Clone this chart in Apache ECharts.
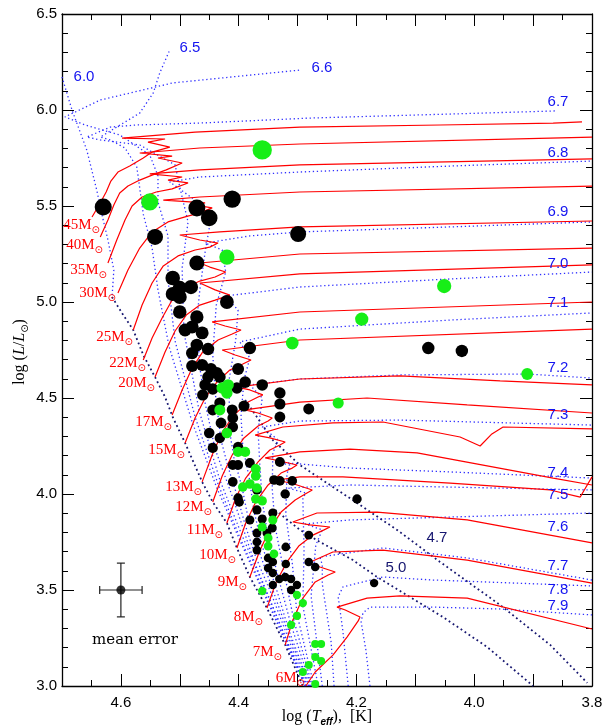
<!DOCTYPE html>
<html><head><meta charset="utf-8">
<script src="https://cdn.jsdelivr.net/npm/echarts/dist/echarts.min.js"></script>
<style>html,body{margin:0;padding:0;background:#fff}#c{width:611px;height:728px}</style>
</head><body><div id="c"></div>
<script>
// ---------- evolutionary tracks [log Teff, log L] ----------
const massLabels = ['45','40','35','30','25','22','20','17','15','13','12','11','10','9','8','7','6'];
const track45 = [[4.649,5.443],[4.637,5.505],[4.625,5.573],[4.617,5.630],[4.605,5.677],[4.585,5.708],[4.562,5.750],[4.547,5.781],[4.517,5.807],[4.554,5.833],[4.525,5.849],[4.598,5.854],[4.474,5.885],[4.296,5.911],[4.058,5.922],[3.866,5.932],[3.817,5.938]];
const track40 = [[4.635,5.339],[4.622,5.427],[4.612,5.505],[4.602,5.568],[4.588,5.604],[4.568,5.635],[4.547,5.661],[4.523,5.688],[4.496,5.724],[4.537,5.750],[4.513,5.760],[4.568,5.776],[4.466,5.802],[4.296,5.823],[3.871,5.854],[3.800,5.859]];
const track35 = [[4.622,5.203],[4.607,5.323],[4.593,5.427],[4.581,5.500],[4.564,5.547],[4.540,5.573],[4.513,5.589],[4.486,5.620],[4.520,5.635],[4.496,5.651],[4.551,5.667],[4.466,5.688],[4.296,5.714],[3.800,5.745]];
const track30 = [[4.605,5.047],[4.588,5.167],[4.568,5.281],[4.547,5.365],[4.520,5.417],[4.491,5.443],[4.466,5.464],[4.445,5.490],[4.474,5.505],[4.457,5.516],[4.528,5.531],[4.466,5.547],[4.296,5.573],[3.800,5.604]];
const track25 = [[4.579,4.854],[4.564,4.984],[4.547,5.099],[4.528,5.188],[4.503,5.240],[4.474,5.271],[4.449,5.286],[4.435,5.307],[4.466,5.323],[4.500,5.349],[4.432,5.365],[4.296,5.391],[3.800,5.422]];
const track22 = [[4.562,4.698],[4.547,4.813],[4.530,4.917],[4.513,5.010],[4.491,5.073],[4.466,5.109],[4.440,5.130],[4.422,5.156],[4.449,5.182],[4.466,5.203],[4.296,5.250],[3.800,5.281]];
const track20 = [[4.542,4.609],[4.525,4.740],[4.508,4.849],[4.489,4.932],[4.466,4.984],[4.440,5.010],[4.415,5.036],[4.440,5.063],[4.466,5.099],[4.296,5.146],[3.800,5.193]];
const track17 = [[4.513,4.411],[4.496,4.542],[4.479,4.656],[4.461,4.740],[4.435,4.802],[4.411,4.833],[4.396,4.854],[4.423,4.875],[4.445,4.896],[4.296,4.948],[3.800,5.000]];
const track15 = [[4.491,4.266],[4.474,4.396],[4.457,4.500],[4.437,4.583],[4.415,4.646],[4.393,4.677],[4.379,4.698],[4.406,4.724],[4.428,4.750],[4.296,4.802],[3.800,4.859]];
const track13 = [[4.462,4.063],[4.445,4.203],[4.428,4.323],[4.408,4.411],[4.384,4.479],[4.367,4.505],[4.359,4.516],[4.381,4.542],[4.403,4.557],[4.296,4.599],[4.126,4.615],[3.956,4.589],[3.800,4.568]];
const track12 = [[4.444,3.958],[4.428,4.094],[4.411,4.203],[4.391,4.292],[4.367,4.354],[4.350,4.380],[4.343,4.396],[4.367,4.422],[4.389,4.438],[4.296,4.479],[4.182,4.500],[4.012,4.464],[3.800,4.422]];
const track11 = [[4.420,3.849],[4.405,3.979],[4.388,4.083],[4.367,4.167],[4.347,4.229],[4.330,4.255],[4.321,4.271],[4.347,4.292],[4.372,4.307],[4.325,4.349],[4.240,4.370],[4.155,4.375],[4.024,4.297],[3.990,4.250],[3.970,4.313],[3.951,4.349],[3.800,4.339]];
const track10 = [[4.403,3.719],[4.388,3.849],[4.371,3.958],[4.350,4.047],[4.328,4.109],[4.309,4.135],[4.301,4.151],[4.330,4.172],[4.355,4.188],[4.296,4.219],[4.211,4.234],[4.097,4.214],[3.866,4.083],[3.800,4.047]];
const track9 = [[4.381,3.568],[4.365,3.698],[4.348,3.813],[4.328,3.906],[4.304,3.969],[4.287,4.000],[4.275,4.021],[4.306,4.052],[4.335,4.073],[4.296,4.089],[4.223,4.089],[4.041,4.057],[3.871,4.021],[3.820,3.984],[3.800,4.089]];
const track8 = [[4.352,3.406],[4.337,3.536],[4.318,3.646],[4.298,3.729],[4.274,3.786],[4.255,3.813],[4.245,3.828],[4.279,3.839],[4.308,3.854],[4.267,3.901],[4.165,3.906],[4.012,3.865],[3.800,3.745]];
const track7 = [[4.321,3.214],[4.308,3.344],[4.291,3.458],[4.270,3.542],[4.248,3.578],[4.236,3.594],[4.262,3.620],[4.282,3.641],[4.240,3.698],[4.155,3.708],[4.012,3.656],[3.800,3.536]];
const track6 = [[4.286,3.000],[4.270,3.073],[4.240,3.161],[4.216,3.255],[4.197,3.339],[4.194,3.359],[4.219,3.396],[4.233,3.411],[4.182,3.458],[4.126,3.469],[4.012,3.458],[3.800,3.297]];

// ---------- isochrones (log age) ----------
const ageLabels = ['6.0','6.5','6.6','6.7','6.8','6.9','7.0','7.1','7.2','7.3','7.4','7.5','7.6','7.7','7.8','7.9'];
const iso60 = [[4.700,6.172],[4.683,6.000],[4.658,5.792],[4.641,5.583],[4.632,5.453],[4.622,5.323],[4.612,5.167],[4.615,5.026]];
const iso65 = [[4.287,3.000],[4.350,3.432],[4.399,3.766],[4.437,4.031],[4.479,4.375],[4.518,4.766],[4.537,5.063],[4.547,5.281],[4.562,5.458],[4.568,5.594],[4.573,5.703],[4.593,5.802],[4.618,5.844],[4.635,5.859],[4.568,5.984],[4.545,6.089],[4.534,6.193],[4.517,6.313]];
const iso66 = [[4.287,3.000],[4.350,3.443],[4.399,3.781],[4.435,4.052],[4.474,4.401],[4.508,4.797],[4.520,5.115],[4.520,5.344],[4.537,5.521],[4.537,5.656],[4.551,5.766],[4.602,5.870],[4.661,5.922],[4.695,5.964],[4.635,6.052],[4.512,6.141],[4.296,6.208]];
const iso67 = [[4.286,3.000],[4.348,3.453],[4.396,3.797],[4.432,4.073],[4.467,4.432],[4.493,4.844],[4.496,5.177],[4.486,5.417],[4.500,5.599],[4.508,5.714],[4.568,5.818],[4.635,5.844],[4.658,5.859],[4.618,5.911],[4.573,5.922],[4.466,5.932],[4.279,5.958],[4.041,5.979],[3.863,5.995]];
const iso68 = [[4.286,3.000],[4.320,3.250],[4.374,3.651],[4.408,3.964],[4.440,4.234],[4.457,4.474],[4.466,4.661],[4.471,4.906],[4.466,5.063],[4.457,5.260],[4.449,5.401],[4.474,5.531],[4.517,5.625],[4.466,5.651],[4.296,5.677],[4.041,5.708],[3.800,5.734]];
const iso69 = [[4.284,3.000],[4.318,3.266],[4.345,3.484],[4.371,3.672],[4.389,3.839],[4.403,3.995],[4.418,4.141],[4.430,4.281],[4.440,4.531],[4.444,4.729],[4.438,4.984],[4.422,5.156],[4.428,5.271],[4.457,5.307],[4.381,5.344],[4.296,5.365],[4.041,5.391],[3.800,5.417]];
const iso70 = [[4.281,3.000],[4.316,3.276],[4.342,3.500],[4.365,3.698],[4.384,3.875],[4.394,4.031],[4.408,4.188],[4.416,4.339],[4.416,4.599],[4.405,4.802],[4.401,4.958],[4.423,5.031],[4.296,5.078],[4.041,5.120],[3.800,5.156]];
const iso71 = [[4.279,3.000],[4.315,3.292],[4.338,3.526],[4.360,3.729],[4.374,3.911],[4.382,4.083],[4.393,4.245],[4.396,4.406],[4.391,4.594],[4.381,4.708],[4.398,4.792],[4.296,4.859],[4.041,4.906],[3.800,4.943]];
const iso72 = [[4.277,3.000],[4.311,3.318],[4.332,3.557],[4.350,3.776],[4.360,3.964],[4.364,4.146],[4.367,4.328],[4.360,4.500],[4.381,4.568],[4.296,4.599],[4.126,4.620],[3.910,4.625],[3.800,4.604]];
const iso73 = [[4.275,3.000],[4.306,3.339],[4.323,3.594],[4.338,3.828],[4.343,4.026],[4.342,4.214],[4.333,4.281],[4.360,4.349],[4.296,4.380],[4.126,4.385],[3.800,4.359]];
const iso74 = [[4.272,3.000],[4.301,3.375],[4.309,3.641],[4.320,3.891],[4.318,4.104],[4.313,4.151],[4.338,4.167],[4.211,4.135],[4.041,4.115],[3.800,4.083]];
const iso75 = [[4.265,3.000],[4.291,3.417],[4.289,3.708],[4.291,3.979],[4.286,4.005],[4.316,4.031],[4.211,4.047],[4.041,4.036],[3.800,4.021]];
const iso76 = [[4.258,3.000],[4.277,3.469],[4.269,3.734],[4.258,3.813],[4.287,3.844],[4.211,3.865],[4.041,3.880],[3.800,3.901]];
const iso77 = [[4.238,3.000],[4.243,3.229],[4.258,3.531],[4.258,3.630],[4.262,3.672],[4.155,3.719],[4.012,3.667],[3.800,3.552]];
const iso78 = [[4.214,3.000],[4.223,3.286],[4.231,3.464],[4.223,3.516],[4.155,3.568],[4.070,3.552],[3.800,3.521]];
const iso79 = [[4.177,3.000],[4.184,3.188],[4.192,3.333],[4.189,3.380],[4.177,3.411],[4.070,3.411],[3.956,3.401],[3.800,3.370]];

// ---------- dark dotted lines ----------
const zamsLine = [[4.615,5.026],[4.596,4.932],[4.579,4.854],[4.562,4.724],[4.542,4.609],[4.525,4.505],[4.512,4.401],[4.491,4.266],[4.462,4.063],[4.444,3.958],[4.420,3.849],[4.403,3.719],[4.381,3.568],[4.352,3.406],[4.321,3.214],[4.291,3.000]];
const line47 = [[4.389,4.490],[4.342,4.281],[4.296,4.151],[4.199,3.953],[4.131,3.813],[4.058,3.646],[3.956,3.422],[3.871,3.214],[3.808,3.016]];
const line50 = [[4.338,3.917],[4.296,3.813],[4.262,3.750],[4.206,3.656],[4.165,3.568],[4.053,3.359],[3.978,3.203],[3.900,3.000]];

// ---------- stars ----------
const blackStars = [[4.630,5.495],[4.471,5.490],[4.450,5.438],[4.411,5.536],[4.542,5.339],[4.299,5.354],[4.471,5.203],[4.512,5.125],[4.500,5.073],[4.481,5.078],[4.512,5.042],[4.500,5.026],[4.420,5.000],[4.500,4.948],[4.471,4.922],[4.491,4.854],[4.479,4.870],[4.462,4.839],[4.471,4.776],[4.452,4.755],[4.479,4.734],[4.381,4.760],[4.479,4.667],[4.462,4.672],[4.447,4.651],[4.437,4.630],[4.452,4.609],[4.432,4.609],[4.401,4.651],[4.389,4.583],[4.360,4.568],[4.457,4.568],[4.444,4.547],[4.461,4.516],[4.403,4.552],[4.330,4.526],[4.330,4.469],[4.330,4.401],[4.281,4.443],[4.391,4.458],[4.444,4.438],[4.411,4.438],[4.410,4.396],[4.430,4.370],[4.410,4.349],[4.450,4.318],[4.432,4.292],[4.444,4.240],[4.401,4.245],[4.410,4.151],[4.401,4.151],[4.381,4.161],[4.410,4.063],[4.401,3.979],[4.399,3.958],[4.340,4.073],[4.330,4.068],[4.309,4.068],[4.321,4.000],[4.369,4.021],[4.369,3.917],[4.342,3.901],[4.381,3.865],[4.360,3.870],[4.343,3.823],[4.369,3.797],[4.369,3.750],[4.320,3.724],[4.369,3.708],[4.350,3.667],[4.342,3.646],[4.320,3.635],[4.350,3.615],[4.342,3.589],[4.331,3.557],[4.321,3.568],[4.311,3.557],[4.342,3.526],[4.301,3.526],[4.311,3.500],[4.281,3.786],[4.281,3.646],[4.270,3.620],[4.199,3.974],[4.170,3.536],[4.078,4.760],[4.021,4.745],[4.330,4.167],[4.432,4.474],[4.352,3.797]];
const greenStars = [[4.551,5.521],[4.360,5.792],[4.420,5.234],[4.428,4.552],[4.418,4.568],[4.420,4.526],[4.432,4.438],[4.420,4.318],[4.401,4.219],[4.389,4.219],[4.371,4.130],[4.371,4.094],[4.381,4.052],[4.393,4.036],[4.369,4.031],[4.371,3.974],[4.360,3.964],[4.342,3.865],[4.360,3.828],[4.350,3.771],[4.350,3.729],[4.340,3.688],[4.360,3.495],[4.301,3.474],[4.291,3.432],[4.301,3.365],[4.311,3.318],[4.270,3.219],[4.260,3.219],[4.270,3.151],[4.260,3.130],[4.281,3.109],[4.291,3.073],[4.270,3.010],[4.309,4.786],[4.191,4.911],[4.051,5.083],[3.910,4.625],[4.231,4.474]];
// mean error: [logT, logL, err logT, err logL]
const meanError = [4.60, 3.50, 0.036, 0.14];

// ---------- layout of annotations (pixels) ----------
const trackLabelPos = [[100,225],[103,245],[107,270],[116,293],[133,337],[146,363],[155,383],[172,422],[185,450],[202,487],[212,507],[223,530],[236,555],[247,582],[263,617],[282,652],[305,678]];
const ageLabelPos = [[84,77],[190,48],[322,68],[558,102],[558,153],[558,212],[558,264],[558,303],[558,368],[558,415],[558,473],[558,495],[558,527],[558,566],[558,590],[558,606]];

const tracks = [track45,track40,track35,track30,track25,track22,track20,track17,track15,track13,track12,track11,track10,track9,track8,track7,track6];
const isos = [iso60,iso65,iso66,iso67,iso68,iso69,iso70,iso71,iso72,iso73,iso74,iso75,iso76,iso77,iso78,iso79];

const chart = echarts.init(document.getElementById('c'), null, {width:611, height:728});

const series = [];
isos.forEach((d,i)=>series.push({type:'line', name:'iso'+ageLabels[i], data:d, showSymbol:false, silent:true, clip:true,
  lineStyle:{color:'#2f2fff', width:1.3, type:[1.3,2.7]}, z:2}));
[zamsLine, line47, line50].forEach(d=>series.push({type:'line', data:d, showSymbol:false, silent:true, clip:true,
  lineStyle:{color:'#161670', width:1.8, type:[1.8,3]}, z:3}));
tracks.forEach((d,i)=>series.push({type:'line', name:massLabels[i]+'M', data:d, showSymbol:false, silent:true, clip:true,
  lineStyle:{color:'#ff0000', width:1.2}, z:4}));
const sizeOf = v => 8 + 1.45*Math.pow(v[1]-3, 2);
series.push({type:'scatter', data:blackStars, symbolSize:sizeOf, itemStyle:{color:'#000', opacity:1}, z:5});
series.push({type:'scatter', data:greenStars, symbolSize:sizeOf, itemStyle:{color:'#17ee17', opacity:1}, z:6});
series.push({type:'custom', z:7, data:[meanError], renderItem:(params, api)=>{
  const x=api.value(0), y=api.value(1), dx=api.value(2), dy=api.value(3);
  const l=api.coord([x+dx,y]), r=api.coord([x-dx,y]), t=api.coord([x,y+dy]), b=api.coord([x,y-dy]);
  const c=4, st={stroke:'#222', lineWidth:1.2};
  return {type:'group', children:[
    {type:'line', shape:{x1:l[0],y1:l[1],x2:r[0],y2:r[1]}, style:st},
    {type:'line', shape:{x1:l[0],y1:l[1]-c,x2:l[0],y2:l[1]+c}, style:st},
    {type:'line', shape:{x1:r[0],y1:r[1]-c,x2:r[0],y2:r[1]+c}, style:st},
    {type:'line', shape:{x1:t[0],y1:t[1],x2:b[0],y2:b[1]}, style:st},
    {type:'line', shape:{x1:t[0]-c,y1:t[1],x2:t[0]+c,y2:t[1]}, style:st},
    {type:'line', shape:{x1:b[0]-c,y1:b[1],x2:b[0]+c,y2:b[1]}, style:st}
  ]};
}});
series.push({type:'scatter', data:[[meanError[0], meanError[1]]], symbolSize:9, itemStyle:{color:'#000'}, z:8});

const tickFont = {fontSize:15, fontFamily:'Liberation Sans, Arial, sans-serif', color:'#000'};
function xAx(pos, show){
  return {type:'value', min:3.8, max:4.7, interval:0.1, inverse:true, position:pos,
    axisLine:{show:true, onZero:false, lineStyle:{color:'#000', width:1.3}},
    axisTick:{show:true, inside:true, length:12, lineStyle:{color:'#000', width:1}},
    minorTick:{show:true, splitNumber:2, length:6, lineStyle:{color:'#000', width:1}},
    splitLine:{show:false},
    axisLabel:Object.assign({show:show, margin:9, formatter:v=>(Math.round(v*10)%2===0)?v.toFixed(1):''}, tickFont)};
}
function yAx(pos, show){
  return {type:'value', min:3.0, max:6.5, interval:0.5, position:pos,
    axisLine:{show:true, onZero:false, lineStyle:{color:'#000', width:1.3}},
    axisTick:{show:true, inside:true, length:12, lineStyle:{color:'#000', width:1}},
    minorTick:{show:true, splitNumber:5, length:6, lineStyle:{color:'#000', width:1}},
    splitLine:{show:false},
    axisLabel:Object.assign({show:show, margin:5, formatter:v=>v.toFixed(1)}, tickFont)};
}

const serif = 'Liberation Serif, DejaVu Serif, serif';
const graphics = [];
massLabels.forEach((m,i)=>{
  graphics.push({type:'text', x:trackLabelPos[i][0], y:trackLabelPos[i][1], silent:true, z:10,
    style:{text:'{a|'+m+'M}{b|\u2299}', align:'right', verticalAlign:'middle',
      rich:{a:{fontSize:15, fontFamily:serif, fill:'#ff0000', color:'#ff0000', lineHeight:20},
            b:{fontSize:10, fontFamily:'DejaVu Sans', fill:'#ff0000', color:'#ff0000', lineHeight:10, verticalAlign:'bottom'}}}});
});
ageLabels.forEach((a,i)=>{
  graphics.push({type:'text', x:ageLabelPos[i][0], y:ageLabelPos[i][1], silent:true, z:10,
    style:{text:a, align:'center', verticalAlign:'middle', fill:'#1414f0', fontSize:15, fontFamily:'Liberation Sans, Arial, sans-serif'}});
});
graphics.push({type:'text', x:437, y:538, z:10, style:{text:'4.7', align:'center', verticalAlign:'middle', fill:'#161670', fontSize:15, fontFamily:'Liberation Sans, Arial, sans-serif'}});
graphics.push({type:'text', x:396, y:568, z:10, style:{text:'5.0', align:'center', verticalAlign:'middle', fill:'#161670', fontSize:15, fontFamily:'Liberation Sans, Arial, sans-serif'}});
graphics.push({type:'text', x:135, y:640, z:10, style:{text:'mean error', align:'center', verticalAlign:'middle', fill:'#000', fontSize:15, fontFamily:'DejaVu Serif, serif'}});
graphics.push({type:'text', x:20, y:352, rotation:Math.PI/2, z:10,
  style:{text:'{n|log (}{i|L}{n|/}{i|L}{s|\u2299}{n|)}', align:'center', verticalAlign:'middle',
    rich:{n:{fontSize:16, fontFamily:serif, fill:'#000', lineHeight:20},
          i:{fontSize:16, fontFamily:serif, fontStyle:'italic', fill:'#000', lineHeight:20},
          s:{fontSize:10, fontFamily:'DejaVu Sans', fill:'#000', lineHeight:10, verticalAlign:'bottom'}}}});
graphics.push({type:'text', x:327, y:717, z:10,
  style:{text:'{n|log (}{i|T}{s|eff}{n|),  [K]}', align:'center', verticalAlign:'middle',
    rich:{n:{fontSize:16, fontFamily:serif, fill:'#000', lineHeight:20},
          i:{fontSize:16, fontFamily:serif, fontStyle:'italic', fill:'#000', lineHeight:20},
          s:{fontSize:10, fontFamily:'Liberation Sans', fontStyle:'italic', fontWeight:'bold', fill:'#000', lineHeight:10, verticalAlign:'bottom'}}}});

chart.setOption({
  animation:false,
  backgroundColor:'#fff',
  grid:{left:62, right:19, top:14, bottom:42, containLabel:false},
  xAxis:[xAx('bottom', true), xAx('top', false)],
  yAxis:[yAx('left', true), yAx('right', false)],
  series:series,
  graphic:graphics
});
</script>
</body></html>
